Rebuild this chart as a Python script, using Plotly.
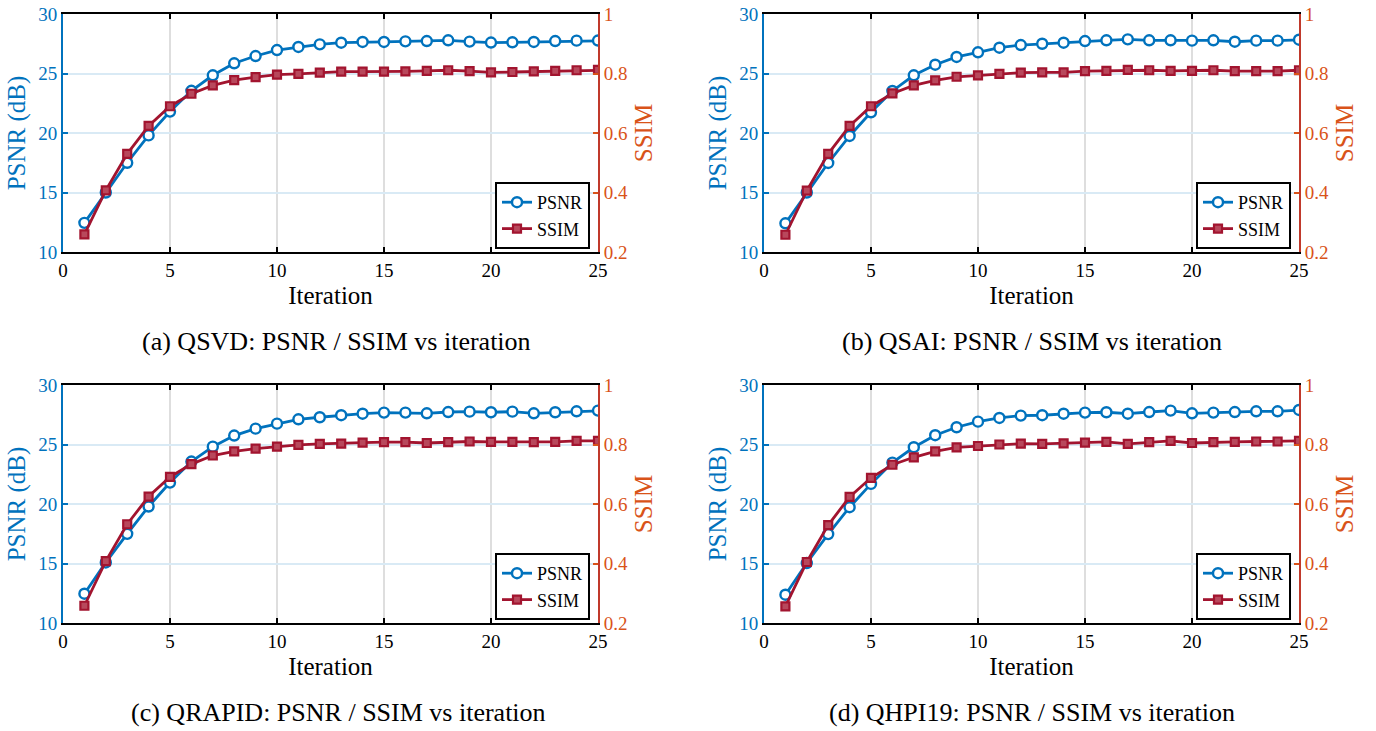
import plotly.graph_objects as go

# Iteration index (the curves run slightly past the visible x range)
iterations = list(range(1, 27))

# PSNR (dB) per iteration for each method
psnr_qsvd = [12.45, 15.0, 17.5, 19.8, 21.8, 23.55, 24.85, 25.86, 26.47, 26.97, 27.23, 27.45,
             27.59, 27.65, 27.65, 27.7, 27.73, 27.79, 27.68, 27.6, 27.62, 27.65, 27.73, 27.76,
             27.77, 27.78]
psnr_qsai = [12.41, 15.0, 17.48, 19.75, 21.74, 23.53, 24.85, 25.74, 26.39, 26.78, 27.17, 27.39,
             27.5, 27.59, 27.73, 27.79, 27.87, 27.79, 27.79, 27.76, 27.79, 27.67, 27.76, 27.76,
             27.84, 27.9]
psnr_qrapid = [12.46, 15.09, 17.49, 19.79, 21.8, 23.57, 24.82, 25.75, 26.33, 26.75, 27.12, 27.29,
               27.46, 27.59, 27.68, 27.68, 27.62, 27.73, 27.76, 27.71, 27.76, 27.62, 27.71, 27.79,
               27.85, 27.9]
psnr_qhpi19 = [12.38, 15.04, 17.47, 19.73, 21.69, 23.48, 24.77, 25.78, 26.45, 26.92, 27.23, 27.43,
               27.46, 27.59, 27.68, 27.71, 27.59, 27.73, 27.85, 27.62, 27.68, 27.73, 27.79, 27.79,
               27.9, 27.98]

# SSIM per iteration for each method
ssim_qsvd = [0.259, 0.407, 0.530, 0.624, 0.690, 0.732, 0.760, 0.778, 0.788, 0.796, 0.799, 0.803,
             0.806, 0.806, 0.806, 0.807, 0.809, 0.811, 0.808, 0.804, 0.805, 0.807, 0.809, 0.811,
             0.812, 0.812]
ssim_qsai = [0.258, 0.406, 0.530, 0.624, 0.690, 0.733, 0.760, 0.777, 0.789, 0.794, 0.799, 0.803,
             0.804, 0.804, 0.808, 0.809, 0.812, 0.811, 0.809, 0.809, 0.811, 0.808, 0.808, 0.808,
             0.811, 0.813]
ssim_qrapid = [0.258, 0.408, 0.532, 0.625, 0.691, 0.734, 0.763, 0.777, 0.786, 0.793, 0.799, 0.802,
               0.803, 0.806, 0.808, 0.808, 0.805, 0.808, 0.810, 0.809, 0.809, 0.808, 0.809, 0.812,
               0.812, 0.813]
ssim_qhpi19 = [0.256, 0.405, 0.529, 0.624, 0.688, 0.732, 0.757, 0.777, 0.790, 0.795, 0.800, 0.803,
               0.802, 0.804, 0.806, 0.809, 0.802, 0.808, 0.812, 0.805, 0.808, 0.809, 0.810, 0.810,
               0.812, 0.813]

captions = ["(a) QSVD: PSNR / SSIM vs iteration",
            "(b) QSAI: PSNR / SSIM vs iteration",
            "(c) QRAPID: PSNR / SSIM vs iteration",
            "(d) QHPI19: PSNR / SSIM vs iteration"]
psnr_sets = [psnr_qsvd, psnr_qsai, psnr_qrapid, psnr_qhpi19]
ssim_sets = [ssim_qsvd, ssim_qsai, ssim_qrapid, ssim_qhpi19]

W, H = 1376, 731
FONT = "Liberation Serif"
BLUE = "#0072BD"
RED = "#A2142F"
ORANGE = "#D95319"
RIGHT_LINE = "#C0392B"

# panel boxes in pixels: (left, right, top, bottom)
boxes = [(63, 598, 14, 252), (764, 1299, 14, 252),
         (63, 598, 385, 623), (764, 1299, 385, 623)]
caption_pos = [(336, 341), (1032, 341), (338, 712), (1032, 712)]

fig = go.Figure()
layout = dict(
    template="none",
    width=W, height=H,
    margin=dict(l=0, r=0, t=0, b=0),
    paper_bgcolor="white", plot_bgcolor="white",
    font=dict(family=FONT, color="black"),
    annotations=[],
)

for i in range(4):
    n = i + 1
    nr = i + 5
    left, right, top, bottom = boxes[i]
    xd = [left / W, right / W]
    yd = [1 - bottom / H, 1 - top / H]
    xname = "x" if n == 1 else f"x{n}"
    yname = "y" if n == 1 else f"y{n}"
    yrname = f"y{nr}"
    legname = "legend" if n == 1 else f"legend{n}"

    fig.add_trace(go.Scatter(
        x=iterations, y=psnr_sets[i], name="PSNR", mode="lines+markers",
        xaxis=xname, yaxis=yname, legend=legname,
        line=dict(color=BLUE, width=2.8),
        marker=dict(symbol="circle", size=10, color="white",
                    line=dict(color=BLUE, width=2.4)),
    ))
    fig.add_trace(go.Scatter(
        x=iterations, y=ssim_sets[i], name="SSIM", mode="lines+markers",
        xaxis=xname, yaxis=yrname, legend=legname,
        line=dict(color=RED, width=2.8),
        marker=dict(symbol="square", size=8, color="#B8485C",
                    line=dict(color=RED, width=2.2)),
    ))

    layout[f"xaxis{'' if n == 1 else n}"] = dict(
        domain=xd, anchor=yname, range=[0, 25], tickvals=[0, 5, 10, 15, 20, 25],
        showline=True, linecolor="black", linewidth=2, mirror="ticks",
        ticks="inside", ticklen=5, tickwidth=1.5, tickcolor="black",
        showgrid=True, gridcolor="#DEDEDE", gridwidth=2, zeroline=False,
        tickfont=dict(family=FONT, size=19, color="black"),
        title=dict(text="Iteration", font=dict(family=FONT, size=25, color="black"), standoff=7),
    )
    layout[f"yaxis{'' if n == 1 else n}"] = dict(
        domain=yd, anchor=xname, range=[10, 30], tickvals=[10, 15, 20, 25, 30],
        showline=True, linecolor=BLUE, linewidth=2,
        ticks="inside", ticklen=5, tickwidth=1.5, tickcolor=BLUE,
        showgrid=True, gridcolor="#D9EAF5", gridwidth=2, zeroline=False,
        tickfont=dict(family=FONT, size=19, color=BLUE),
        title=dict(text="PSNR (dB)", font=dict(family=FONT, size=25, color=BLUE), standoff=5),
    )
    layout[f"yaxis{nr}"] = dict(
        overlaying=yname, anchor=xname, side="right", range=[0.2, 1.0],
        tickvals=[0.2, 0.4, 0.6, 0.8, 1.0], ticktext=["0.2", "0.4", "0.6", "0.8", "1"],
        showline=True, linecolor=RIGHT_LINE, linewidth=2,
        ticks="inside", ticklen=5, tickwidth=1.5, tickcolor=ORANGE,
        showgrid=False, zeroline=False,
        tickfont=dict(family=FONT, size=19, color=ORANGE),
        title=dict(text="SSIM", font=dict(family=FONT, size=25, color=ORANGE), standoff=7),
    )
    layout[legname] = dict(
        x=(right - 8) / W, xanchor="right", y=1 - (bottom - 3) / H, yanchor="bottom",
        bgcolor="white", bordercolor="black", borderwidth=2,
        font=dict(family=FONT, size=18, color="black"),
        itemwidth=30, tracegroupgap=0, traceorder="normal",
    )
    cx, cy = caption_pos[i]
    layout["annotations"].append(dict(
        text=captions[i], x=cx / W, y=1 - cy / H, xref="paper", yref="paper",
        xanchor="center", yanchor="middle", showarrow=False,
        font=dict(family=FONT, size=26, color="black"),
    ))

fig.update_layout(**layout)
fig.write_html("out.html")
